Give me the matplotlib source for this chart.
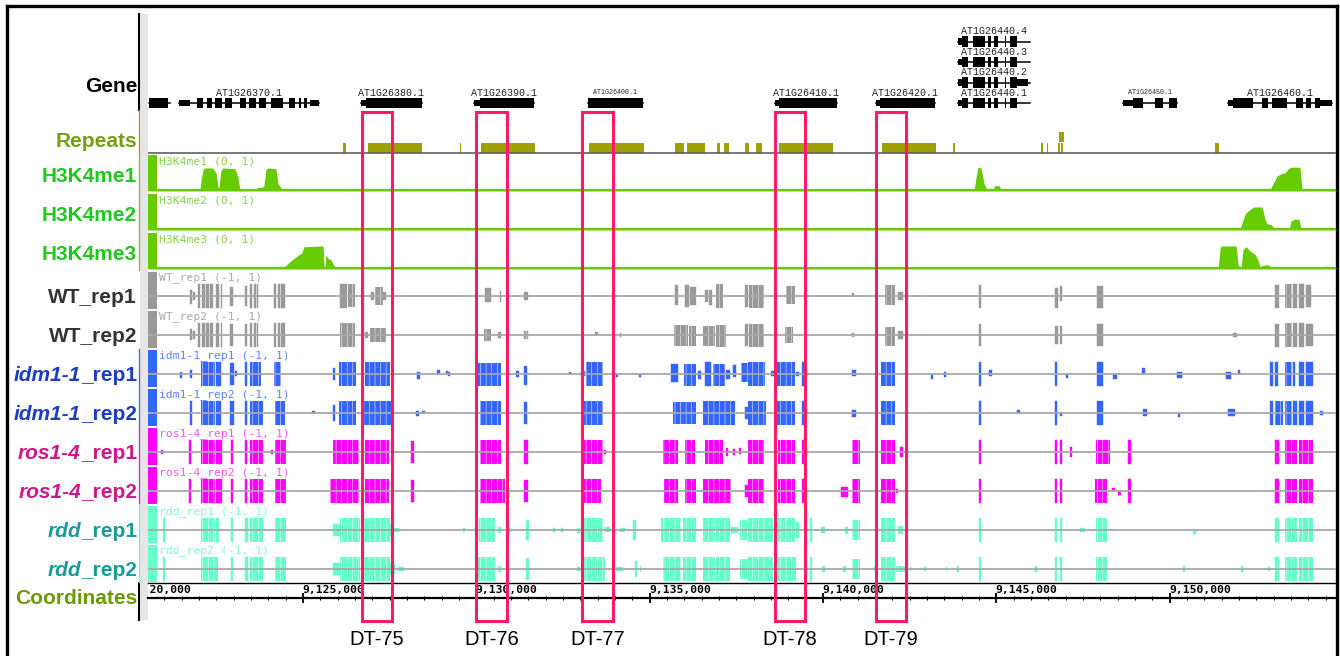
import numpy as np
import matplotlib.pyplot as plt
from matplotlib.patches import Rectangle
from matplotlib.ticker import MultipleLocator
from matplotlib.transforms import Bbox, TransformedBbox

W, H = 1340, 656
XMIN, XMAX = 9120.53, 9154.80   # window in kb

# ---------------- data (positions in kb) ----------------
gene_names = ["", "AT1G26370.1", "AT1G26380.1", "AT1G26390.1", "AT1G26400.1",
              "AT1G26410.1", "AT1G26420.1", "AT1G26440.1", "AT1G26440.2",
              "AT1G26440.3", "AT1G26440.4", "AT1G26450.1", "AT1G26460.1"]
gene_rows = [0, 0, 0, 0, 0, 0, 0, 0, 1, 2, 3, 0, 0]
gene_spans = [(9120.56, 9121.16), (9121.42, 9125.46), (9126.67, 9128.43),
              (9129.93, 9131.66), (9133.22, 9134.81), (9138.62, 9140.41),
              (9141.53, 9143.23), (9143.90, 9145.97), (9143.90, 9145.97),
              (9143.90, 9145.97), (9143.90, 9145.97), (9148.66, 9150.22),
              (9151.69, 9154.69)]
iso_exons = [(9144.01, 9144.19), (9144.33, 9144.68), (9144.76, 9144.85),
             (9144.94, 9145.05), (9145.25, 9145.28), (9145.40, 9145.60)]
gene_exons = [
    [(9120.56, 9121.11)],
    [(9121.94, 9122.12), (9122.23, 9122.37), (9122.46, 9122.66), (9122.75, 9122.95),
     (9123.18, 9123.36), (9123.44, 9123.64), (9123.73, 9123.93), (9124.08, 9124.42),
     (9124.60, 9124.77), (9124.88, 9124.94), (9125.03, 9125.12)],
    [(9126.82, 9128.43)],
    [(9130.11, 9131.66)],
    [(9133.22, 9134.81)],
    [(9138.73, 9140.41)],
    [(9141.65, 9143.23)],
    iso_exons, iso_exons, iso_exons, iso_exons,
    [(9148.95, 9149.23), (9149.58, 9149.81), (9149.98, 9150.22)],
    [(9151.83, 9152.41), (9152.67, 9152.84), (9152.96, 9153.39), (9153.65, 9153.85),
     (9153.94, 9154.08), (9154.20, 9154.34)],
]
gene_utrs = [
    [], [(9121.42, 9121.74), (9125.20, 9125.46)], [(9126.67, 9126.82)],
    [(9129.93, 9130.11)], [], [(9138.62, 9138.73)], [(9141.53, 9141.65)],
    [(9143.90, 9144.01)], [(9143.90, 9144.01), (9145.60, 9145.92)],
    [(9143.90, 9144.01)], [(9143.90, 9144.01)],
    [(9148.66, 9148.95)], [(9151.69, 9151.83), (9154.34, 9154.69)],
]
tiny_gene_labels = ["AT1G26400.1", "AT1G26450.1"]

rep_start = [9126.15, 9126.88, 9129.53, 9130.14, 9133.25, 9135.73, 9136.08, 9136.94,
             9137.15, 9137.75, 9138.07, 9138.73, 9141.70, 9143.75, 9146.29, 9146.46,
             9146.78, 9146.87, 9146.81, 9151.31]
rep_end = [9126.23, 9128.43, 9129.57, 9131.68, 9134.84, 9135.99, 9136.60, 9137.03,
           9137.29, 9137.88, 9138.24, 9140.29, 9143.26, 9143.81, 9146.35, 9146.49,
           9146.83, 9146.93, 9146.96, 9151.43]
rep_level = [0, 0, 0, 0, 0, 0, 0, 0, 0, 0, 0, 0, 0, 0, 0, 0, 0, 0, 1, 0]

me1_pos = [9120.53, 9122.03, 9122.06, 9122.12, 9122.17, 9122.40, 9122.49, 9122.55,
           9122.58, 9122.63, 9122.69, 9123.04, 9123.12, 9123.18, 9123.64, 9123.70,
           9123.87, 9123.93, 9123.99, 9124.22, 9124.28, 9124.39, 9124.45, 9125.95,
           9126.07, 9126.18, 9144.36, 9144.42, 9144.47, 9144.56, 9144.65, 9144.73,
           9144.91, 9144.96, 9145.08, 9145.14, 9149.12, 9149.18, 9149.23, 9149.64,
           9149.70, 9149.75, 9152.90, 9152.98, 9153.10, 9153.22, 9153.33, 9153.42,
           9153.50, 9153.76, 9153.82, 9154.80]
me1_val = [0.03, 0.03, 0.3, 0.6, 0.64, 0.64, 0.5, 0.1, 0.1, 0.55, 0.64, 0.62, 0.4,
           0.05, 0.05, 0.1, 0.12, 0.6, 0.64, 0.62, 0.2, 0.06, 0.03, 0.03, 0.06, 0.03,
           0.03, 0.4, 0.66, 0.64, 0.2, 0.05, 0.05, 0.15, 0.15, 0.03, 0.03, 0.07, 0.03,
           0.03, 0.07, 0.03, 0.03, 0.2, 0.42, 0.48, 0.5, 0.62, 0.66, 0.66, 0.05, 0.03]
me2_pos = [9120.53, 9125.03, 9125.09, 9125.14, 9143.75, 9143.84, 9143.95, 9149.52,
           9149.61, 9149.70, 9152.03, 9152.09, 9152.18, 9152.29, 9152.44, 9152.67,
           9152.75, 9152.81, 9152.93, 9153.01, 9153.45, 9153.50, 9153.59, 9153.73,
           9153.79, 9154.80]
me2_val = [0.03, 0.03, 0.05, 0.03, 0.03, 0.07, 0.03, 0.03, 0.05, 0.03, 0.03, 0.2,
           0.45, 0.55, 0.64, 0.64, 0.3, 0.17, 0.15, 0.05, 0.03, 0.25, 0.3, 0.3, 0.05,
           0.03]
me3_pos = [9120.53, 9124.39, 9124.51, 9124.68, 9124.86, 9124.97, 9125.03, 9125.58,
           9125.61, 9125.63, 9125.66, 9125.72, 9125.81, 9125.89, 9125.98, 9151.40,
           9151.46, 9151.51, 9151.92, 9151.98, 9152.06, 9152.12, 9152.21, 9152.32,
           9152.47, 9152.55, 9152.61, 9152.67, 9152.84, 9152.96, 9154.40, 9154.51,
           9154.72, 9154.80]
me3_val = [0.03, 0.03, 0.1, 0.25, 0.38, 0.45, 0.62, 0.64, 0.05, 0.05, 0.4, 0.3, 0.25,
           0.1, 0.03, 0.03, 0.6, 0.64, 0.64, 0.1, 0.05, 0.55, 0.62, 0.5, 0.4, 0.25,
           0.05, 0.1, 0.12, 0.03, 0.03, 0.08, 0.06, 0.04]

# methylation difference tracks: (start, end, up, down)
wt_rep1 = [
    (9121.74, 9121.80, .5, .6), (9121.83, 9121.88, .3, .3), (9121.97, 9122.03, 1, 1),
    (9122.09, 9122.17, 1, 1), (9122.20, 9122.29, 1, 1), (9122.32, 9122.40, 1, 1),
    (9122.49, 9122.58, 1, 1), (9122.63, 9122.66, 1, 1), (9122.89, 9122.98, .7, .8),
    (9123.33, 9123.38, .8, .8), (9123.47, 9123.53, 1, 1), (9123.59, 9123.64, 1, 1),
    (9123.67, 9123.70, 1, 1), (9124.16, 9124.22, 1, 1), (9124.28, 9124.34, 1, 1),
    (9124.37, 9124.48, 1, 1), (9126.07, 9126.26, 1, 1), (9126.29, 9126.50, 1, .9),
    (9126.96, 9127.05, .3, .3), (9127.08, 9127.31, .7, .7), (9127.31, 9127.39, .3, .3),
    (9130.25, 9130.42, .65, .5), (9130.68, 9130.71, .4, .5), (9131.38, 9131.49, .3, .3),
    (9135.73, 9135.82, .9, .7), (9136.02, 9136.14, .9, .9), (9136.17, 9136.34, .7, .7),
    (9136.60, 9136.68, .5, .5), (9136.71, 9136.80, .5, .7), (9136.92, 9137.12, 1, 1),
    (9137.75, 9137.84, .9, .9), (9137.87, 9138.30, .9, 1), (9138.93, 9139.19, .8, .6),
    (9140.84, 9140.90, .2, 0), (9141.79, 9142.08, .9, .7), (9142.17, 9142.31, .3, .3),
    (9144.50, 9144.56, .9, 1), (9146.70, 9146.78, .6, 1), (9146.84, 9146.90, .8, .4),
    (9147.91, 9148.08, .8, 1), (9153.04, 9153.16, .9, 1), (9153.33, 9153.53, 1, 1),
    (9153.56, 9153.68, 1, 1), (9153.73, 9153.88, 1, 1), (9153.94, 9154.08, .9, .9),
]
wt_rep2 = [
    (9121.74, 9121.80, .5, .4), (9121.83, 9121.88, .3, .3), (9121.97, 9122.03, 1, 1),
    (9122.09, 9122.17, 1, 1), (9122.20, 9122.29, 1, 1), (9122.32, 9122.40, 1, 1),
    (9122.49, 9122.58, 1, 1), (9122.63, 9122.66, 1, 1), (9122.89, 9122.98, .9, .9),
    (9123.33, 9123.38, .9, .9), (9123.47, 9123.53, 1, 1), (9123.59, 9123.64, 1, 1),
    (9123.67, 9123.70, 1, 1), (9124.16, 9124.22, 1, 1), (9124.28, 9124.34, 1, 1),
    (9124.37, 9124.48, 1, 1), (9126.07, 9126.50, 1, .95), (9126.79, 9126.88, .2, .2),
    (9126.93, 9127.39, .55, .55), (9130.22, 9130.42, .45, .45), (9130.63, 9130.71, .2, .2),
    (9131.38, 9131.43, .3, .3), (9131.46, 9131.49, .3, .3), (9133.42, 9133.51, .2, 0),
    (9134.15, 9134.17, .15, .15), (9135.70, 9136.11, .8, .9), (9136.14, 9136.34, .7, .9),
    (9136.54, 9136.89, .7, .9), (9136.92, 9137.20, .8, 1), (9137.75, 9137.84, .9, .9),
    (9137.87, 9138.30, .9, 1), (9138.91, 9139.14, .6, .6), (9140.84, 9140.90, .1, .1),
    (9141.79, 9142.08, .6, .9), (9142.17, 9142.31, .3, .3), (9144.50, 9144.56, .9, .9),
    (9146.70, 9146.78, .7, .7), (9146.84, 9146.90, .7, .7), (9147.91, 9148.08, .9, .9),
    (9151.83, 9151.95, .1, .1), (9153.04, 9153.16, .9, 1), (9153.33, 9153.53, 1, 1),
    (9153.56, 9153.68, 1, 1), (9153.73, 9153.88, 1, 1), (9153.94, 9154.14, .9, .9),
]
idm_rep1 = [
    (9121.45, 9121.51, .1, .3), (9121.74, 9121.80, .3, .3), (9122.06, 9122.46, 1, 1),
    (9122.49, 9122.63, 1, 1), (9122.89, 9123.01, .9, .9), (9123.04, 9123.10, .2, .1),
    (9123.33, 9123.38, 1, 1), (9123.47, 9123.79, 1, 1), (9124.16, 9124.37, 1, 1),
    (9125.87, 9125.92, .5, .5), (9126.04, 9126.53, 1, 1), (9126.79, 9127.51, 1, 1),
    (9128.29, 9128.38, .1, .4), (9128.87, 9128.95, .3, 0), (9129.13, 9129.18, .2, 0),
    (9129.18, 9129.24, .1, .1), (9130.05, 9130.71, .9, 1), (9131.15, 9131.23, .2, .2),
    (9131.38, 9131.46, .6, .9), (9132.67, 9132.73, .1, 0), (9133.02, 9133.14, .2, .1),
    (9133.16, 9133.65, 1, 1), (9134.03, 9134.09, 0, .2), (9134.69, 9134.75, 0, .2),
    (9135.62, 9135.82, .8, .6), (9135.99, 9136.34, .8, 1), (9136.40, 9136.48, .2, .4),
    (9136.60, 9136.77, 1, 1), (9136.83, 9137.17, .8, 1), (9137.20, 9137.32, .3, .4),
    (9137.41, 9137.49, .7, .2), (9137.64, 9137.84, .9, .6), (9137.84, 9138.33, 1, 1),
    (9138.50, 9138.62, .2, .1), (9138.68, 9139.19, 1, 1), (9139.22, 9139.31, .1, .1),
    (9139.40, 9139.45, 1, 1), (9140.84, 9140.95, .3, .1), (9141.68, 9142.08, 1, 1),
    (9143.12, 9143.18, 0, .4), (9143.49, 9143.55, .1, .2), (9144.50, 9144.56, 1, 1),
    (9144.79, 9144.88, .3, .1), (9146.70, 9146.75, 1, 1), (9147.01, 9147.07, 0, .3),
    (9147.91, 9148.08, 1, 1), (9148.37, 9148.48, 0, .4), (9149.21, 9149.29, .5, 0),
    (9150.22, 9150.36, .1, .3), (9151.63, 9151.77, .1, .4), (9151.98, 9152.03, .3, 0),
    (9152.90, 9152.98, 1, 1), (9153.04, 9153.13, 1, 1), (9153.33, 9153.53, 1, 1),
    (9153.56, 9153.62, 1, 1), (9153.73, 9153.88, 1, 1), (9153.94, 9154.14, 1, 1),
]
idm_rep2 = [
    (9121.74, 9121.80, 1, 1), (9122.06, 9122.46, 1, 1), (9122.49, 9122.63, 1, 1),
    (9122.89, 9123.01, 1, 1), (9123.33, 9123.38, 1, 1), (9123.47, 9123.85, 1, 1),
    (9124.19, 9124.48, 1, 1), (9125.26, 9125.35, .1, 0), (9125.87, 9125.92, .6, .6),
    (9126.04, 9126.53, 1, 1), (9126.76, 9127.54, 1, 1), (9128.26, 9128.35, .1, .2),
    (9128.43, 9128.52, .1, 0), (9130.11, 9130.71, 1, 1), (9131.38, 9131.46, .9, .9),
    (9133.08, 9133.65, 1, 1), (9135.67, 9136.34, .9, .9), (9136.54, 9137.46, 1, 1),
    (9137.75, 9137.84, .5, .5), (9137.84, 9138.36, 1, 1), (9138.68, 9139.19, 1, 1),
    (9139.40, 9139.45, 1, 1), (9140.84, 9140.95, .2, .3), (9141.68, 9142.08, 1, 1),
    (9144.50, 9144.56, 1, 1), (9145.60, 9145.69, .2, 0), (9146.70, 9146.75, 1, 1),
    (9146.84, 9146.90, 0, .2), (9147.91, 9148.08, 1, 1), (9149.23, 9149.35, .3, .2),
    (9150.24, 9150.30, 0, .3), (9151.69, 9151.89, .3, .2), (9152.90, 9152.98, 1, 1),
    (9153.04, 9153.27, 1, 1), (9153.33, 9153.53, 1, 1), (9153.56, 9153.68, 1, 1),
    (9153.73, 9153.88, 1, 1), (9153.94, 9154.14, 1, 1), (9154.34, 9154.43, .1, .1),
]
ros_rep1 = [
    (9120.90, 9120.96, .1, .1), (9121.71, 9121.77, 1, 1), (9122.06, 9122.46, 1, 1),
    (9122.49, 9122.66, 1, 1), (9122.92, 9122.98, 1, 1), (9123.33, 9123.38, 1, 1),
    (9123.47, 9123.85, 1, 1), (9124.08, 9124.13, .1, .1), (9124.19, 9124.51, 1, 1),
    (9125.87, 9126.62, 1, 1), (9126.79, 9127.48, 1, 1), (9128.12, 9128.20, .9, .9),
    (9130.11, 9130.71, 1, 1), (9131.38, 9131.49, 1, 1), (9133.02, 9133.65, 1, 1),
    (9133.68, 9133.74, .1, .1), (9135.39, 9135.82, 1, 1), (9136.02, 9136.31, 1, 1),
    (9136.60, 9137.12, 1, 1), (9137.20, 9137.26, .3, .3), (9137.40, 9137.46, .2, .2),
    (9137.58, 9137.64, .3, .1), (9137.84, 9138.30, 1, 1),
    (9138.70, 9139.19, 1, 1), (9139.40, 9139.45, 1, 1), (9140.84, 9141.07, 1, 1),
    (9141.68, 9142.08, 1, 1), (9142.22, 9142.31, .4, .4), (9144.50, 9144.56, 1, 1),
    (9146.70, 9146.75, 1, 1), (9146.84, 9146.90, 1, 1), (9147.13, 9147.19, .4, .4),
    (9147.88, 9148.28, 1, 1), (9148.80, 9148.89, 1, 1), (9153.04, 9153.16, 1, 1),
    (9153.33, 9153.68, 1, 1), (9153.73, 9154.14, 1, 1),
]
ros_rep2 = [
    (9121.71, 9121.77, 1, 1), (9122.06, 9122.46, 1, 1), (9122.49, 9122.66, 1, 1),
    (9122.92, 9122.98, 1, 1), (9123.33, 9123.38, 1, 1), (9123.47, 9123.85, 1, 1),
    (9124.19, 9124.51, 1, 1), (9125.78, 9126.62, 1, 1), (9126.79, 9127.48, 1, 1),
    (9128.12, 9128.20, .9, .9), (9130.11, 9130.83, 1, 1), (9131.38, 9131.49, .9, .9),
    (9133.08, 9133.60, 1, 1), (9135.41, 9135.82, 1, 1), (9136.02, 9136.34, 1, 1),
    (9136.54, 9137.35, 1, 1), (9137.75, 9137.84, .5, .5), (9137.84, 9138.30, 1, 1),
    (9138.70, 9139.19, 1, 1), (9139.40, 9139.45, 1, 1), (9140.52, 9140.72, .3, .5),
    (9140.84, 9141.07, 1, 1), (9141.68, 9142.08, 1, 1), (9142.11, 9142.17, .1, .1),
    (9144.50, 9144.56, 1, 1), (9146.70, 9146.75, 1, 1), (9146.84, 9146.90, 1, 1),
    (9147.85, 9148.20, 1, 1), (9148.34, 9148.43, .2, 0), (9148.51, 9148.60, 0, .3),
    (9148.80, 9148.89, 1, 1), (9153.04, 9153.16, 1, 1), (9153.33, 9153.68, 1, 1),
    (9153.73, 9154.14, 1, 1),
]
rdd_rep1 = [
    (9120.96, 9121.02, 1, 1), (9122.06, 9122.46, 1, 1), (9122.49, 9122.58, 1, 1),
    (9122.92, 9122.98, 1, 1), (9123.33, 9123.41, 1, 1), (9123.47, 9123.85, 1, 1),
    (9124.19, 9124.51, 1, 1), (9125.87, 9126.07, .5, .5), (9126.07, 9126.64, 1, 1),
    (9126.76, 9127.51, 1, 1), (9127.51, 9127.63, .5, .5), (9127.63, 9127.77, .1, .1),
    (9129.62, 9129.67, .1, .1), (9129.96, 9130.05, .2, .2), (9130.08, 9130.54, 1, 1),
    (9130.63, 9130.71, .2, .2), (9130.91, 9131.00, .1, .1), (9131.43, 9131.52, .8, .8),
    (9132.21, 9132.27, .1, .1), (9132.44, 9132.50, .1, .1), (9132.90, 9132.99, .1, .2),
    (9133.08, 9133.65, 1, 1), (9133.71, 9133.86, .2, .1), (9134.15, 9134.29, .1, .1),
    (9134.52, 9134.61, .8, .8), (9135.33, 9135.91, 1, 1), (9135.96, 9136.34, 1, 1),
    (9136.54, 9136.89, 1, 1), (9136.92, 9137.32, 1, 1), (9137.35, 9137.55, .2, .2),
    (9137.61, 9137.84, .8, .8), (9137.84, 9138.56, 1, 1), (9138.68, 9139.19, 1, 1),
    (9139.22, 9139.31, .6, .6), (9139.63, 9139.68, 1, 1), (9139.94, 9140.06, .2, .2),
    (9140.64, 9140.72, .2, .3), (9140.84, 9141.07, .8, .8), (9141.68, 9142.08, 1, 1),
    (9142.17, 9142.31, .3, .3), (9144.50, 9144.56, 1, 1), (9146.70, 9146.75, 1, 1),
    (9146.84, 9146.90, 1, 1), (9147.42, 9147.56, .1, .1), (9147.88, 9148.20, 1, 1),
    (9150.68, 9150.76, 0, .3), (9153.04, 9153.16, 1, 1), (9153.33, 9153.68, 1, 1),
    (9153.73, 9154.14, 1, 1),
]
rdd_rep2 = [
    (9120.96, 9121.02, 1, 1), (9122.06, 9122.55, 1, 1), (9122.92, 9122.98, 1, 1),
    (9123.33, 9123.41, 1, 1), (9123.47, 9123.85, 1, 1), (9124.19, 9124.51, 1, 1),
    (9125.87, 9126.07, .5, .5), (9126.07, 9126.64, 1, 1), (9126.76, 9127.51, 1, 1),
    (9127.51, 9127.65, .5, .5), (9127.74, 9127.91, .1, .1), (9129.99, 9130.54, 1, 1),
    (9130.63, 9130.71, .2, .2), (9131.43, 9131.52, .9, .9), (9132.90, 9132.99, .1, .1),
    (9133.08, 9133.71, 1, 1), (9134.03, 9134.23, .1, .1), (9134.58, 9134.64, .6, .6),
    (9134.72, 9134.75, .2, .2), (9135.39, 9135.91, 1, 1), (9135.96, 9136.34, 1, 1),
    (9136.54, 9136.89, 1, 1), (9136.92, 9137.32, 1, 1), (9137.61, 9137.84, .8, .8),
    (9137.84, 9138.56, 1, 1), (9138.65, 9139.22, 1, 1), (9139.63, 9139.68, 1, 1),
    (9139.97, 9140.06, .2, .2), (9140.58, 9140.67, .2, .2), (9140.84, 9141.07, .8, .8),
    (9141.47, 9141.53, .1, .1), (9141.68, 9142.08, 1, 1), (9142.11, 9142.37, .2, .2),
    (9142.51, 9142.54, .1, .1), (9142.92, 9142.97, .1, .1), (9143.55, 9143.58, .1, .1),
    (9143.87, 9143.93, .2, .2), (9144.50, 9144.56, 1, 1), (9146.12, 9146.18, .2, .2),
    (9146.70, 9146.75, 1, 1), (9146.84, 9146.90, 1, 1), (9147.88, 9148.20, 1, 1),
    (9150.39, 9150.45, .2, .2), (9152.06, 9152.12, .2, .2), (9152.84, 9152.90, .1, .1),
    (9153.04, 9153.16, 1, 1), (9153.33, 9153.68, 1, 1), (9153.73, 9154.14, 1, 1),
]

dt_names = ["DT-75", "DT-76", "DT-77", "DT-78", "DT-79"]
dt_start = [9126.70, 9129.99, 9133.05, 9138.62, 9141.53]
dt_end = [9127.57, 9130.89, 9133.94, 9139.48, 9142.40]

# ---------------- drawing ----------------
SANS = ["Liberation Sans", "DejaVu Sans"]
MONO = ["DejaVu Sans Mono"]
plt.rcParams["hatch.linewidth"] = 0.35

fig = plt.figure(figsize=(W / 100, H / 100), dpi=100)

# decorations in pixel coordinates
deco = fig.add_axes([0, 0, 1, 1])
deco.set_xlim(0, W)
deco.set_ylim(H, 0)
deco.axis("off")
deco.add_patch(Rectangle((140, 14), 8, 606, color="#e6e6e6", lw=0))
deco.plot([7, 7], [6, H], color="black", lw=2.4)
deco.plot([7, 1337], [6, 6], color="black", lw=2.4)
deco.plot([1337, 1337], [6, H], color="black", lw=2.4)
deco.plot([139, 139], [14, 110], color="black", lw=1.5)
deco.plot([139, 139], [583, 620], color="black", lw=1.5)
for (y0, y1, c) in [(110, 153, "#9f9f00"), (153, 270, "#66cc00"),
                    (349, 426, "#3366ff"), (426, 504, "#ff00ff"),
                    (504, 582, "#66ffcc")]:
    deco.plot([139, 139], [y0, y1], color=c, lw=0.9)


def px_axes(top, bottom, left=148, right=1336):
    ax = fig.add_axes([left / W, 1 - bottom / H, (right - left) / W, (bottom - top) / H])
    ax.set_xlim(XMIN, XMAX)
    ax.axis("off")
    return ax


def left_label(text, baseline, color, italic=""):
    t = fig.text(137 / W, 1 - baseline / H, text, ha="right", va="baseline",
                 fontsize=15, fontweight="bold", color=color, family=SANS)
    if italic:
        pending.append((t, italic, color))


pending = []

# Gene track
axg = px_axes(20, 110)
axg.set_ylim(-0.34, 4.05)
for name, row, span, exons, utrs in zip(gene_names, gene_rows, gene_spans,
                                        gene_exons, gene_utrs):
    axg.plot(span, [row, row], color="black", lw=1.1)
    for s, e in exons:
        axg.add_patch(Rectangle((s, row - 0.25), e - s, 0.5, color="black", lw=0))
    for s, e in utrs:
        axg.add_patch(Rectangle((s, row - 0.15), e - s, 0.3, color="black", lw=0))
    if name:
        fs = 4.8 if name in tiny_gene_labels else 7.2
        axg.text((span[0] + span[1]) / 2, row + 0.5, name, ha="center", va="center",
                 fontsize=fs, family=["Liberation Mono"], color="#222222")
left_label("Gene", 92, "black")

# Repeats
axr = px_axes(128, 154)
axr.set_ylim(-0.1, 2.5)
axr.axhline(0, color="#606060", lw=1.2)
rep_bottom = [0 if lv == 0 else 1.1 for lv in rep_level]
axr.bar(rep_start, 1.0, width=np.array(rep_end) - np.array(rep_start), bottom=rep_bottom,
        align="edge", color="#a0a000", lw=0)
left_label("Repeats", 147, "#74a010")

# H3K4 tracks
green = "#66cc00"
for i, (nm, pos, val) in enumerate([("H3K4me1", me1_pos, me1_val),
                                    ("H3K4me2", me2_pos, me2_val),
                                    ("H3K4me3", me3_pos, me3_val)]):
    top = 155 + 39 * i
    ax = px_axes(top, top + 36)
    ax.set_ylim(0, 1)
    ax.fill_between(pos, 0, val, color=green, lw=0)
    ax.axhline(0.03, color=green, lw=1.6)
    ax.add_patch(Rectangle((0, 0), 9 / 1188, 1, transform=ax.transAxes, color=green, lw=0))
    ax.text(11 / 1188, 0.97, f"{nm} (0, 1)", transform=ax.transAxes, va="top",
            ha="left", fontsize=8.2, family=MONO, color="#7fd64a")
    left_label(nm, top + 27, "#1fc81f")

# methylation tracks
meth = [("WT_rep1", "", wt_rep1, "#999999", "#aaaaaa", "#333333"),
        ("WT_rep2", "", wt_rep2, "#999999", "#aaaaaa", "#333333"),
        ("idm1-1_rep1", "idm1-1", idm_rep1, "#3366ff", "#5a82ff", "#1c3cc4"),
        ("idm1-1_rep2", "idm1-1", idm_rep2, "#3366ff", "#5a82ff", "#1c3cc4"),
        ("ros1-4_rep1", "ros1-4", ros_rep1, "#ff00ff", "#ff55ff", "#cf168d"),
        ("ros1-4_rep2", "ros1-4", ros_rep2, "#ff00ff", "#ff55ff", "#cf168d"),
        ("rdd_rep1", "rdd", rdd_rep1, "#66ffcc", "#8cf5d8", "#1a9a9a"),
        ("rdd_rep2", "rdd", rdd_rep2, "#66ffcc", "#8cf5d8", "#1a9a9a")]
for i, (nm, ital, segs, col, lcol, tcol) in enumerate(meth):
    top = 272 + 39 * i
    ax = px_axes(top, top + 37)
    ax.set_ylim(-13 / 12, 24 / 12)
    ax.axhline(0, color="#a8a8a8", lw=1.3)
    s = np.array([p[0] for p in segs])
    e = np.array([p[1] for p in segs])
    up = np.array([p[2] for p in segs])
    dn = np.array([p[3] for p in segs])
    wide = (e - s) > 0.2
    ax.bar(s[~wide], (up + dn + 0.08)[~wide], width=(e - s)[~wide],
           bottom=(-dn - 0.04)[~wide], align="edge", color=col, edgecolor=col, lw=0.3)
    # dense CpG clusters: faint stripes like the browser's individual bars
    ax.bar(s[wide], (up + dn + 0.08)[wide], width=(e - s)[wide],
           bottom=(-dn - 0.04)[wide], align="edge", facecolor=col, edgecolor="white",
           hatch="|||", lw=0)
    ax.add_patch(Rectangle((0, 0), 9 / 1188, 1, transform=ax.transAxes, color=col, lw=0))
    ax.text(11 / 1188, 0.99, f"{nm} (-1, 1)", transform=ax.transAxes, va="top",
            ha="left", fontsize=8.2, family=MONO, color=lcol)
    left_label(nm[len(ital):], top + 31, tcol, italic=ital)

# coordinates
axc = fig.add_axes([148 / W, 1 - 606 / H, 1188 / W, 23 / H])
axc.set_xlim(XMIN, XMAX)
axc.set_ylim(0, 1)
axc.patch.set_alpha(0)
for sp in ["left", "right"]:
    axc.spines[sp].set_visible(False)
axc.spines["top"].set_linewidth(1.0)
axc.spines["bottom"].set_position(("axes", 8 / 23))
axc.spines["bottom"].set_linewidth(1.6)
axc.set_yticks([])
axc.xaxis.set_major_locator(MultipleLocator(5))
axc.xaxis.set_minor_locator(MultipleLocator(0.5))
axc.tick_params(axis="x", which="major", direction="inout", length=7, width=1.3,
                labelbottom=False)
axc.tick_params(axis="x", which="minor", direction="inout", length=3.5, width=0.8)
label_clip = TransformedBbox(Bbox([[2.0 / 1188, 0], [1, 1]]), axc.transAxes)
for t in MultipleLocator(5).tick_values(XMIN, XMAX):
    if t > XMAX:
        continue
    tx = axc.text(t - 0.02, 0.93, f"{int(round(t * 1000)):,}", va="top", ha="left",
                  fontsize=8.2, family=MONO, fontweight="bold", clip_on=True)
    tx.set_clip_box(label_clip)
left_label("Coordinates", 604, "#6a9a00")

# DT boxes
axb = fig.add_axes([148 / W, 0, 1188 / W, 1])
axb.set_xlim(XMIN, XMAX)
axb.set_ylim(H, 0)
axb.axis("off")
for nm, s, e in zip(dt_names, dt_start, dt_end):
    axb.add_patch(Rectangle((s, 112), e - s, 509, fill=False, edgecolor="#ff1a66", lw=2.2))
    axb.text((s + e) / 2, 645, nm, ha="center", va="baseline", fontsize=14.5,
             family=SANS, color="black", clip_on=False)

# italic genotype prefixes placed to the left of the upright suffix
fig.canvas.draw()
r = fig.canvas.get_renderer()
for t, ital, col in pending:
    bb = t.get_window_extent(r)
    fig.text(bb.x0 / W, t.get_position()[1], ital, ha="right", va="baseline",
             fontsize=15, fontweight="bold", fontstyle="italic", color=col, family=SANS)

fig.savefig("out.png", dpi=100)
